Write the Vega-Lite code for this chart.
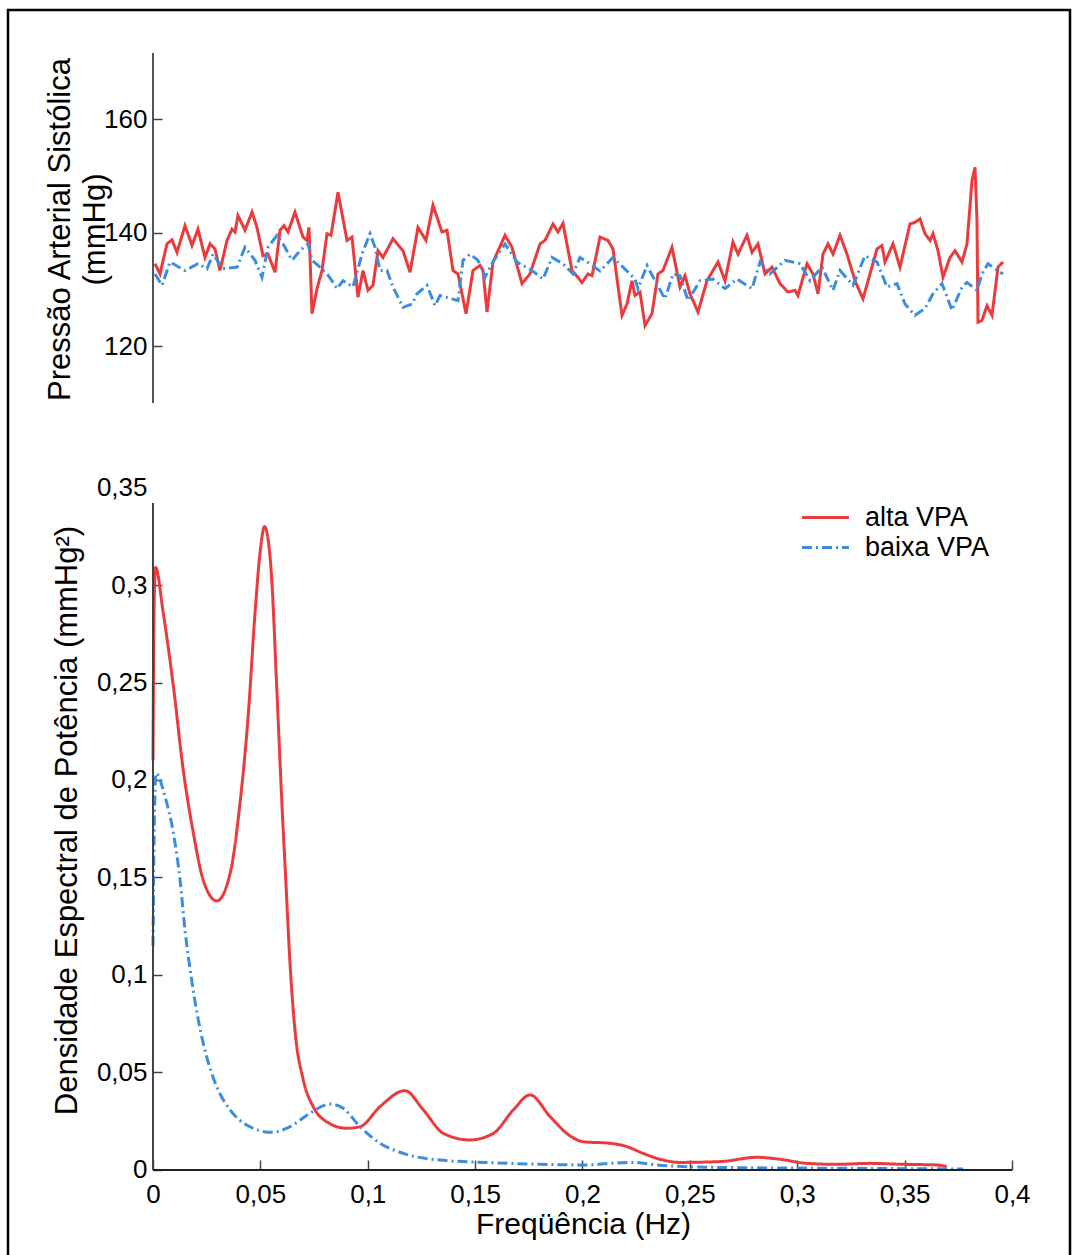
{
  "$schema": "https://vega.github.io/schema/vega-lite/v6.json",
  "autosize": {"type": "none"},
  "padding": {"left": 8, "top": 10, "right": 4, "bottom": -5},
  "width": 1062,
  "height": 1250,
  "background": "white",
  "config": {
    "font": "Liberation Sans",
    "view": {"stroke": "black", "strokeWidth": 2.5},
    "axis": {"grid": false, "labelFont": "Liberation Sans", "titleFont": "Liberation Sans", "labelColor": "black", "titleColor": "black", "titleFontWeight": "normal", "labelFontSize": 26, "titleFontSize": 31, "tickColor": "#444", "tickWidth": 1.5, "labelFlush": false, "labelOverlap": false, "labelBound": false},
    "legend": {"orient": "none", "legendX": 804, "legendY": 494, "title": null, "labelFontSize": 27, "labelFont": "Liberation Sans", "labelColor": "black", "symbolType": "M-2,0H2", "symbolSize": 550, "symbolStrokeWidth": 3, "symbolFillColor": "transparent", "labelOffset": 26, "rowPadding": 2}
  },
  "datasets": {
    "serie": [
      {"t":2,"v":134.5,"s":"alta VPA"},{"t":7,"v":132.7,"s":"alta VPA"},{"t":14,"v":138.0,"s":"alta VPA"},{"t":19,"v":138.7,"s":"alta VPA"},{"t":24,"v":136.5,"s":"alta VPA"},{"t":32,"v":141.2,"s":"alta VPA"},{"t":39,"v":137.7,"s":"alta VPA"},{"t":45,"v":140.6,"s":"alta VPA"},{"t":52,"v":135.6,"s":"alta VPA"},{"t":57,"v":138.0,"s":"alta VPA"},{"t":62,"v":137.1,"s":"alta VPA"},{"t":67,"v":133.3,"s":"alta VPA"},{"t":74,"v":138.6,"s":"alta VPA"},{"t":79,"v":140.6,"s":"alta VPA"},{"t":82,"v":140.1,"s":"alta VPA"},{"t":85,"v":143.0,"s":"alta VPA"},{"t":92,"v":140.4,"s":"alta VPA"},{"t":99,"v":143.6,"s":"alta VPA"},{"t":104,"v":140.9,"s":"alta VPA"},{"t":110,"v":135.9,"s":"alta VPA"},{"t":115,"v":136.2,"s":"alta VPA"},{"t":122,"v":133.0,"s":"alta VPA"},{"t":127,"v":140.4,"s":"alta VPA"},{"t":131,"v":141.2,"s":"alta VPA"},{"t":135,"v":140.1,"s":"alta VPA"},{"t":142,"v":143.6,"s":"alta VPA"},{"t":150,"v":139.2,"s":"alta VPA"},{"t":154,"v":138.6,"s":"alta VPA"},{"t":156,"v":140.9,"s":"alta VPA"},{"t":159,"v":125.7,"s":"alta VPA"},{"t":164,"v":130.1,"s":"alta VPA"},{"t":169,"v":133.3,"s":"alta VPA"},{"t":174,"v":139.8,"s":"alta VPA"},{"t":178,"v":139.5,"s":"alta VPA"},{"t":185,"v":147.1,"s":"alta VPA"},{"t":194,"v":138.6,"s":"alta VPA"},{"t":199,"v":139.2,"s":"alta VPA"},{"t":205,"v":128.6,"s":"alta VPA"},{"t":210,"v":133.3,"s":"alta VPA"},{"t":215,"v":129.8,"s":"alta VPA"},{"t":220,"v":130.7,"s":"alta VPA"},{"t":225,"v":136.8,"s":"alta VPA"},{"t":230,"v":135.6,"s":"alta VPA"},{"t":240,"v":138.9,"s":"alta VPA"},{"t":250,"v":136.8,"s":"alta VPA"},{"t":257,"v":133.0,"s":"alta VPA"},{"t":265,"v":140.9,"s":"alta VPA"},{"t":273,"v":138.6,"s":"alta VPA"},{"t":280,"v":144.8,"s":"alta VPA"},{"t":289,"v":140.1,"s":"alta VPA"},{"t":294,"v":140.4,"s":"alta VPA"},{"t":300,"v":133.3,"s":"alta VPA"},{"t":305,"v":132.7,"s":"alta VPA"},{"t":313,"v":125.7,"s":"alta VPA"},{"t":320,"v":133.3,"s":"alta VPA"},{"t":327,"v":134.2,"s":"alta VPA"},{"t":330,"v":133.3,"s":"alta VPA"},{"t":334,"v":126.0,"s":"alta VPA"},{"t":340,"v":134.8,"s":"alta VPA"},{"t":352,"v":139.5,"s":"alta VPA"},{"t":359,"v":137.4,"s":"alta VPA"},{"t":369,"v":131.0,"s":"alta VPA"},{"t":377,"v":132.7,"s":"alta VPA"},{"t":387,"v":138.0,"s":"alta VPA"},{"t":392,"v":138.6,"s":"alta VPA"},{"t":400,"v":141.5,"s":"alta VPA"},{"t":405,"v":140.1,"s":"alta VPA"},{"t":410,"v":141.6,"s":"alta VPA"},{"t":419,"v":133.3,"s":"alta VPA"},{"t":422,"v":132.7,"s":"alta VPA"},{"t":429,"v":131.2,"s":"alta VPA"},{"t":435,"v":132.7,"s":"alta VPA"},{"t":439,"v":132.4,"s":"alta VPA"},{"t":447,"v":139.2,"s":"alta VPA"},{"t":455,"v":138.6,"s":"alta VPA"},{"t":460,"v":137.1,"s":"alta VPA"},{"t":469,"v":125.4,"s":"alta VPA"},{"t":474,"v":127.4,"s":"alta VPA"},{"t":479,"v":131.5,"s":"alta VPA"},{"t":482,"v":128.9,"s":"alta VPA"},{"t":487,"v":129.5,"s":"alta VPA"},{"t":492,"v":123.6,"s":"alta VPA"},{"t":499,"v":125.7,"s":"alta VPA"},{"t":505,"v":132.7,"s":"alta VPA"},{"t":510,"v":133.3,"s":"alta VPA"},{"t":519,"v":137.4,"s":"alta VPA"},{"t":527,"v":130.4,"s":"alta VPA"},{"t":532,"v":132.4,"s":"alta VPA"},{"t":537,"v":129.2,"s":"alta VPA"},{"t":545,"v":126.0,"s":"alta VPA"},{"t":554,"v":131.5,"s":"alta VPA"},{"t":565,"v":134.8,"s":"alta VPA"},{"t":572,"v":131.5,"s":"alta VPA"},{"t":580,"v":138.3,"s":"alta VPA"},{"t":585,"v":136.2,"s":"alta VPA"},{"t":594,"v":139.5,"s":"alta VPA"},{"t":599,"v":136.5,"s":"alta VPA"},{"t":605,"v":138.0,"s":"alta VPA"},{"t":612,"v":132.7,"s":"alta VPA"},{"t":619,"v":133.9,"s":"alta VPA"},{"t":627,"v":131.0,"s":"alta VPA"},{"t":635,"v":129.5,"s":"alta VPA"},{"t":642,"v":129.8,"s":"alta VPA"},{"t":645,"v":128.9,"s":"alta VPA"},{"t":654,"v":134.5,"s":"alta VPA"},{"t":660,"v":132.7,"s":"alta VPA"},{"t":665,"v":129.2,"s":"alta VPA"},{"t":670,"v":136.2,"s":"alta VPA"},{"t":675,"v":138.0,"s":"alta VPA"},{"t":680,"v":136.2,"s":"alta VPA"},{"t":687,"v":139.5,"s":"alta VPA"},{"t":694,"v":136.2,"s":"alta VPA"},{"t":702,"v":131.5,"s":"alta VPA"},{"t":710,"v":128.3,"s":"alta VPA"},{"t":717,"v":132.7,"s":"alta VPA"},{"t":724,"v":137.1,"s":"alta VPA"},{"t":729,"v":137.7,"s":"alta VPA"},{"t":732,"v":134.8,"s":"alta VPA"},{"t":740,"v":138.0,"s":"alta VPA"},{"t":747,"v":133.9,"s":"alta VPA"},{"t":757,"v":141.5,"s":"alta VPA"},{"t":762,"v":141.8,"s":"alta VPA"},{"t":767,"v":142.4,"s":"alta VPA"},{"t":772,"v":139.8,"s":"alta VPA"},{"t":777,"v":138.6,"s":"alta VPA"},{"t":780,"v":139.8,"s":"alta VPA"},{"t":785,"v":136.8,"s":"alta VPA"},{"t":790,"v":132.1,"s":"alta VPA"},{"t":797,"v":135.6,"s":"alta VPA"},{"t":802,"v":136.8,"s":"alta VPA"},{"t":809,"v":134.8,"s":"alta VPA"},{"t":814,"v":138.0,"s":"alta VPA"},{"t":819,"v":149.2,"s":"alta VPA"},{"t":822,"v":151.5,"s":"alta VPA"},{"t":824,"v":142.1,"s":"alta VPA"},{"t":825,"v":124.2,"s":"alta VPA"},{"t":829,"v":124.5,"s":"alta VPA"},{"t":834,"v":127.1,"s":"alta VPA"},{"t":839,"v":125.4,"s":"alta VPA"},{"t":845,"v":133.9,"s":"alta VPA"},{"t":850,"v":134.8,"s":"alta VPA"},
      {"t":2,"v":132.7,"s":"baixa VPA"},{"t":9,"v":130.7,"s":"baixa VPA"},{"t":17,"v":134.8,"s":"baixa VPA"},{"t":32,"v":133.3,"s":"baixa VPA"},{"t":45,"v":134.5,"s":"baixa VPA"},{"t":54,"v":133.6,"s":"baixa VPA"},{"t":60,"v":136.2,"s":"baixa VPA"},{"t":70,"v":133.6,"s":"baixa VPA"},{"t":84,"v":133.9,"s":"baixa VPA"},{"t":92,"v":137.4,"s":"baixa VPA"},{"t":102,"v":135.1,"s":"baixa VPA"},{"t":109,"v":132.1,"s":"baixa VPA"},{"t":115,"v":137.4,"s":"baixa VPA"},{"t":124,"v":139.5,"s":"baixa VPA"},{"t":130,"v":138.0,"s":"baixa VPA"},{"t":139,"v":135.1,"s":"baixa VPA"},{"t":147,"v":136.8,"s":"baixa VPA"},{"t":155,"v":138.0,"s":"baixa VPA"},{"t":159,"v":135.1,"s":"baixa VPA"},{"t":167,"v":133.9,"s":"baixa VPA"},{"t":174,"v":132.7,"s":"baixa VPA"},{"t":179,"v":131.5,"s":"baixa VPA"},{"t":184,"v":130.1,"s":"baixa VPA"},{"t":190,"v":131.5,"s":"baixa VPA"},{"t":200,"v":130.4,"s":"baixa VPA"},{"t":209,"v":136.2,"s":"baixa VPA"},{"t":217,"v":139.8,"s":"baixa VPA"},{"t":222,"v":137.4,"s":"baixa VPA"},{"t":227,"v":133.3,"s":"baixa VPA"},{"t":234,"v":133.3,"s":"baixa VPA"},{"t":240,"v":130.4,"s":"baixa VPA"},{"t":250,"v":126.8,"s":"baixa VPA"},{"t":259,"v":127.4,"s":"baixa VPA"},{"t":264,"v":129.2,"s":"baixa VPA"},{"t":274,"v":130.7,"s":"baixa VPA"},{"t":282,"v":127.1,"s":"baixa VPA"},{"t":287,"v":128.9,"s":"baixa VPA"},{"t":299,"v":128.3,"s":"baixa VPA"},{"t":305,"v":128.0,"s":"baixa VPA"},{"t":310,"v":135.1,"s":"baixa VPA"},{"t":317,"v":136.2,"s":"baixa VPA"},{"t":325,"v":135.1,"s":"baixa VPA"},{"t":332,"v":132.1,"s":"baixa VPA"},{"t":340,"v":134.8,"s":"baixa VPA"},{"t":352,"v":138.0,"s":"baixa VPA"},{"t":364,"v":134.8,"s":"baixa VPA"},{"t":379,"v":133.3,"s":"baixa VPA"},{"t":390,"v":131.8,"s":"baixa VPA"},{"t":399,"v":135.6,"s":"baixa VPA"},{"t":410,"v":134.5,"s":"baixa VPA"},{"t":420,"v":132.7,"s":"baixa VPA"},{"t":427,"v":135.6,"s":"baixa VPA"},{"t":437,"v":134.5,"s":"baixa VPA"},{"t":447,"v":133.2,"s":"baixa VPA"},{"t":460,"v":135.6,"s":"baixa VPA"},{"t":470,"v":133.9,"s":"baixa VPA"},{"t":482,"v":131.8,"s":"baixa VPA"},{"t":485,"v":130.1,"s":"baixa VPA"},{"t":494,"v":134.2,"s":"baixa VPA"},{"t":502,"v":131.5,"s":"baixa VPA"},{"t":512,"v":128.3,"s":"baixa VPA"},{"t":520,"v":132.7,"s":"baixa VPA"},{"t":527,"v":132.4,"s":"baixa VPA"},{"t":535,"v":128.0,"s":"baixa VPA"},{"t":547,"v":131.5,"s":"baixa VPA"},{"t":560,"v":131.8,"s":"baixa VPA"},{"t":572,"v":130.1,"s":"baixa VPA"},{"t":584,"v":131.8,"s":"baixa VPA"},{"t":599,"v":130.1,"s":"baixa VPA"},{"t":607,"v":134.8,"s":"baixa VPA"},{"t":617,"v":132.7,"s":"baixa VPA"},{"t":632,"v":135.1,"s":"baixa VPA"},{"t":647,"v":134.5,"s":"baixa VPA"},{"t":657,"v":131.5,"s":"baixa VPA"},{"t":669,"v":133.9,"s":"baixa VPA"},{"t":680,"v":129.8,"s":"baixa VPA"},{"t":687,"v":133.3,"s":"baixa VPA"},{"t":700,"v":130.7,"s":"baixa VPA"},{"t":712,"v":135.9,"s":"baixa VPA"},{"t":724,"v":134.8,"s":"baixa VPA"},{"t":734,"v":130.4,"s":"baixa VPA"},{"t":744,"v":131.0,"s":"baixa VPA"},{"t":752,"v":127.4,"s":"baixa VPA"},{"t":762,"v":125.4,"s":"baixa VPA"},{"t":772,"v":126.6,"s":"baixa VPA"},{"t":780,"v":129.2,"s":"baixa VPA"},{"t":789,"v":131.0,"s":"baixa VPA"},{"t":799,"v":126.3,"s":"baixa VPA"},{"t":809,"v":130.4,"s":"baixa VPA"},{"t":814,"v":131.2,"s":"baixa VPA"},{"t":824,"v":129.8,"s":"baixa VPA"},{"t":829,"v":132.7,"s":"baixa VPA"},{"t":835,"v":134.5,"s":"baixa VPA"},{"t":842,"v":133.6,"s":"baixa VPA"},{"t":850,"v":132.7,"s":"baixa VPA"}
    ],
    "espectro": [
      {"f":0,"p":0.21,"s":"alta VPA"},{"f":0.0005,"p":0.29,"s":"alta VPA"},{"f":0.0012,"p":0.309,"s":"alta VPA"},{"f":0.0048,"p":0.2855,"s":"alta VPA"},{"f":0.0095,"p":0.248,"s":"alta VPA"},{"f":0.0141,"p":0.205,"s":"alta VPA"},{"f":0.0188,"p":0.1727,"s":"alta VPA"},{"f":0.0234,"p":0.1487,"s":"alta VPA"},{"f":0.0297,"p":0.138,"s":"alta VPA"},{"f":0.0359,"p":0.152,"s":"alta VPA"},{"f":0.0405,"p":0.188,"s":"alta VPA"},{"f":0.0444,"p":0.234,"s":"alta VPA"},{"f":0.0475,"p":0.2855,"s":"alta VPA"},{"f":0.05,"p":0.318,"s":"alta VPA"},{"f":0.0519,"p":0.33,"s":"alta VPA"},{"f":0.054,"p":0.32,"s":"alta VPA"},{"f":0.0553,"p":0.3026,"s":"alta VPA"},{"f":0.0576,"p":0.248,"s":"alta VPA"},{"f":0.0599,"p":0.191,"s":"alta VPA"},{"f":0.062,"p":0.145,"s":"alta VPA"},{"f":0.0638,"p":0.106,"s":"alta VPA"},{"f":0.0661,"p":0.0718,"s":"alta VPA"},{"f":0.07,"p":0.0462,"s":"alta VPA"},{"f":0.0746,"p":0.0325,"s":"alta VPA"},{"f":0.0808,"p":0.0248,"s":"alta VPA"},{"f":0.0901,"p":0.0214,"s":"alta VPA"},{"f":0.0964,"p":0.0222,"s":"alta VPA"},{"f":0.1057,"p":0.0325,"s":"alta VPA"},{"f":0.1173,"p":0.0407,"s":"alta VPA"},{"f":0.1259,"p":0.0308,"s":"alta VPA"},{"f":0.1352,"p":0.0188,"s":"alta VPA"},{"f":0.1476,"p":0.0154,"s":"alta VPA"},{"f":0.1585,"p":0.0188,"s":"alta VPA"},{"f":0.1678,"p":0.0308,"s":"alta VPA"},{"f":0.1756,"p":0.0385,"s":"alta VPA"},{"f":0.1849,"p":0.0274,"s":"alta VPA"},{"f":0.1942,"p":0.0175,"s":"alta VPA"},{"f":0.2004,"p":0.0145,"s":"alta VPA"},{"f":0.2128,"p":0.0137,"s":"alta VPA"},{"f":0.2206,"p":0.012,"s":"alta VPA"},{"f":0.2283,"p":0.0085,"s":"alta VPA"},{"f":0.2361,"p":0.0055,"s":"alta VPA"},{"f":0.2454,"p":0.0039,"s":"alta VPA"},{"f":0.264,"p":0.0043,"s":"alta VPA"},{"f":0.2811,"p":0.0065,"s":"alta VPA"},{"f":0.292,"p":0.0055,"s":"alta VPA"},{"f":0.3044,"p":0.0034,"s":"alta VPA"},{"f":0.3183,"p":0.0029,"s":"alta VPA"},{"f":0.3339,"p":0.0034,"s":"alta VPA"},{"f":0.3494,"p":0.0029,"s":"alta VPA"},{"f":0.3649,"p":0.0026,"s":"alta VPA"},{"f":0.3696,"p":0.0017,"s":"alta VPA"},
      {"f":0,"p":0.115,"s":"baixa VPA"},{"f":0.0005,"p":0.17,"s":"baixa VPA"},{"f":0.0014,"p":0.2034,"s":"baixa VPA"},{"f":0.0056,"p":0.1914,"s":"baixa VPA"},{"f":0.0095,"p":0.1727,"s":"baixa VPA"},{"f":0.0126,"p":0.1487,"s":"baixa VPA"},{"f":0.0149,"p":0.1231,"s":"baixa VPA"},{"f":0.018,"p":0.0974,"s":"baixa VPA"},{"f":0.0211,"p":0.0769,"s":"baixa VPA"},{"f":0.025,"p":0.0581,"s":"baixa VPA"},{"f":0.0297,"p":0.0427,"s":"baixa VPA"},{"f":0.0359,"p":0.0308,"s":"baixa VPA"},{"f":0.0436,"p":0.0231,"s":"baixa VPA"},{"f":0.0553,"p":0.0193,"s":"baixa VPA"},{"f":0.0638,"p":0.0222,"s":"baixa VPA"},{"f":0.0731,"p":0.0291,"s":"baixa VPA"},{"f":0.0824,"p":0.0338,"s":"baixa VPA"},{"f":0.0886,"p":0.0316,"s":"baixa VPA"},{"f":0.0964,"p":0.0222,"s":"baixa VPA"},{"f":0.1057,"p":0.0137,"s":"baixa VPA"},{"f":0.1166,"p":0.0085,"s":"baixa VPA"},{"f":0.1336,"p":0.0051,"s":"baixa VPA"},{"f":0.1569,"p":0.0038,"s":"baixa VPA"},{"f":0.1802,"p":0.0029,"s":"baixa VPA"},{"f":0.2027,"p":0.0026,"s":"baixa VPA"},{"f":0.2128,"p":0.0034,"s":"baixa VPA"},{"f":0.2237,"p":0.0039,"s":"baixa VPA"},{"f":0.2345,"p":0.0026,"s":"baixa VPA"},{"f":0.2485,"p":0.0017,"s":"baixa VPA"},{"f":0.2718,"p":0.0012,"s":"baixa VPA"},{"f":0.3183,"p":0.0009,"s":"baixa VPA"},{"f":0.3773,"p":0.0005,"s":"baixa VPA"}
    ]
  },
  "layer": [
    {
      "data": {"name": "serie"},
      "layer": [
        {
          "mark": {"type": "line", "strokeWidth": 3},
          "encoding": {
            "x": {"field": "t", "type": "quantitative", "scale": {"domain": [-145, 917], "nice": false, "zero": false}, "axis": null},
            "y": {"field": "v", "type": "quantitative", "scale": {"domain": [-41.06, 179.21], "nice": false, "zero": false},
              "axis": {"orient": "left", "offset": -145, "values": [120, 140, 160], "domain": false, "tickSize": -9, "labelPadding": 15,
                "title": ["Pressão Arterial Sistólica", "(mmHg)"], "titleX": -93, "titleY": 219, "titleBaseline": "middle", "titleAlign": "center", "titleAngle": -90, "titleLineHeight": 35}},
            "color": {"field": "s", "type": "nominal", "scale": {"domain": ["alta VPA", "baixa VPA"], "range": ["#ea3a3c", "#3a8de0"]}},
            "strokeDash": {"field": "s", "type": "nominal", "scale": {"domain": ["alta VPA", "baixa VPA"], "range": [[1, 0], [10, 4, 2, 4]]}}
          }
        },
        {
          "mark": {"type": "rule", "color": "#555", "strokeWidth": 1.5},
          "encoding": {
            "x": {"datum": 0, "type": "quantitative"},
            "y": {"datum": 110, "type": "quantitative"},
            "y2": {"datum": 171.6}
          }
        }
      ]
    },
    {
      "data": {"name": "espectro"},
      "layer": [
        {
          "mark": {"type": "line", "strokeWidth": 3, "interpolate": "monotone"},
          "encoding": {
            "x": {"field": "f", "type": "quantitative", "scale": {"domain": [-0.06752, 0.42701], "nice": false, "zero": false},
              "axis": {"orient": "bottom", "offset": -90, "values": [0, 0.05, 0.1, 0.15, 0.2, 0.25, 0.3, 0.35, 0.4], "domain": false, "tickSize": -10, "labelPadding": 21,
                "labelExpr": "replace(format(datum.value, '~g'), '.', ',')", "title": "Freqüência (Hz)", "titleFontSize": 30, "titleX": 575, "titleY": 54, "titleBaseline": "middle", "titleAlign": "center"}},
            "y": {"field": "p", "type": "quantitative", "scale": {"domain": [-0.046154, 0.594872], "nice": false, "zero": false},
              "axis": {"orient": "left", "offset": -145, "values": [0, 0.05, 0.1, 0.15, 0.2, 0.25, 0.3, 0.35], "domain": false, "tickSize": -9, "labelPadding": 15,
                "tickOpacity": {"condition": {"test": "datum.value > 0.34", "value": 0}, "value": 1},
                "labelExpr": "replace(format(datum.value, '~g'), '.', ',')", "title": "Densidade Espectral de Potência (mmHg²)", "titleX": -86, "titleY": 810, "titleBaseline": "middle", "titleAlign": "center", "titleAngle": -90}},
            "color": {"field": "s", "type": "nominal"},
            "strokeDash": {"field": "s", "type": "nominal"}
          }
        },
        {
          "mark": {"type": "rule", "color": "#444", "strokeWidth": 1.5},
          "encoding": {
            "x": {"datum": 0, "type": "quantitative"},
            "y": {"datum": 0, "type": "quantitative"},
            "y2": {"datum": 0.342}
          }
        },
        {
          "mark": {"type": "rule", "color": "#222", "strokeWidth": 1.5},
          "encoding": {
            "x": {"datum": 0, "type": "quantitative"},
            "x2": {"datum": 0.4},
            "y": {"datum": 0, "type": "quantitative"}
          }
        }
      ]
    }
  ],
  "resolve": {"scale": {"x": "independent", "y": "independent"}}
}
